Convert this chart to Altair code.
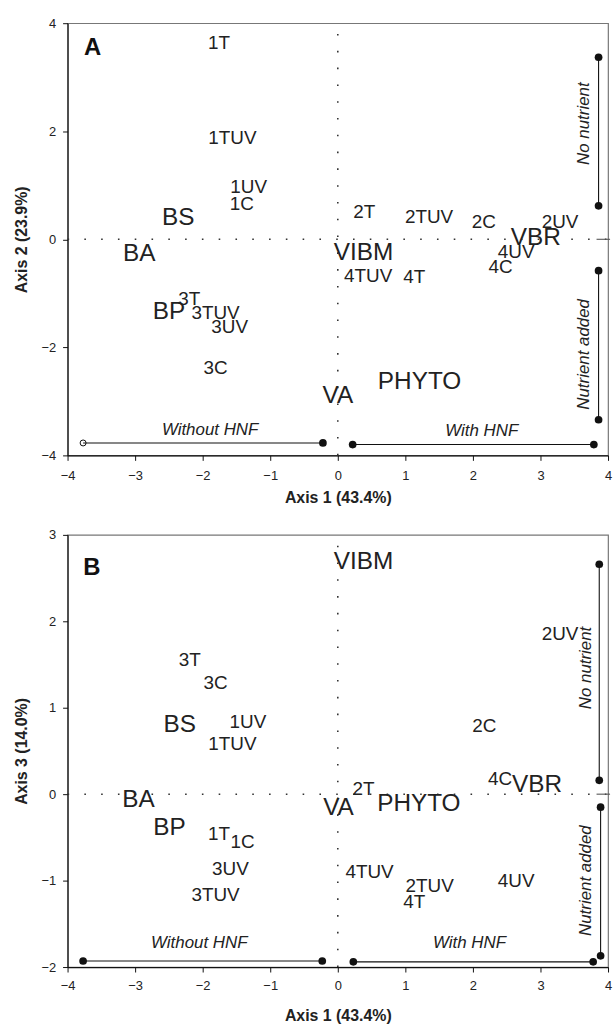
import altair as alt
import pandas as pd

FONT = "Liberation Sans"

# ---------------- Panel A (Axis 1 vs Axis 2) ----------------
a_labels = ["1T", "1TUV", "1UV", "1C", "BS", "BA", "BP", "3T", "3TUV", "3UV", "3C",
            "2T", "2TUV", "2C", "2UV", "VBR", "4UV", "4C", "VIBM", "4TUV", "4T", "PHYTO", "VA"]
a_x = [-1.76, -1.56, -1.32, -1.42, -2.36, -2.94, -2.50, -2.20, -1.81, -1.60, -1.81,
       0.39, 1.35, 2.16, 3.29, 2.93, 2.64, 2.41, 0.38, 0.45, 1.13, 1.21, 0.00]
a_y = [3.64, 1.88, 0.97, 0.65, 0.40, -0.28, -1.34, -1.11, -1.36, -1.62, -2.39,
       0.51, 0.42, 0.32, 0.32, 0.03, -0.23, -0.52, -0.25, -0.68, -0.70, -2.64, -2.91]

# ---------------- Panel B (Axis 1 vs Axis 3) ----------------
b_labels = ["VIBM", "2UV", "2C", "3T", "3C", "BS", "1UV", "1TUV", "BA", "BP", "1T", "1C",
            "3UV", "3TUV", "2T", "VA", "PHYTO", "4C", "VBR", "4TUV", "2TUV", "4T", "4UV"]
b_x = [0.38, 3.29, 2.17, -2.19, -1.81, -2.34, -1.33, -1.56, -2.95, -2.49, -1.76, -1.41,
       -1.59, -1.81, 0.38, 0.01, 1.20, 2.40, 2.95, 0.47, 1.36, 1.13, 2.64]
b_y = [2.69, 1.85, 0.79, 1.55, 1.28, 0.80, 0.84, 0.58, -0.07, -0.39, -0.46, -0.55,
       -0.87, -1.17, 0.06, -0.16, -0.12, 0.17, 0.10, -0.90, -1.06, -1.25, -1.00]

# variables (drawn larger) vs samples
variables = ["BS", "BA", "BP", "VIBM", "VBR", "PHYTO", "VA"]

# group bars: start x, end x, start y, end y
a_seg_x = [-3.77, 0.22, 3.86, 3.86]
a_seg_x2 = [-0.22, 3.79, 3.86, 3.86]
a_seg_y = [-3.77, -3.80, 3.37, -0.58]
a_seg_y2 = [-3.77, -3.80, 0.62, -3.34]
a_open_end = [True, False, False, False]

b_seg_x = [-3.77, 0.23, 3.87, 3.89]
b_seg_x2 = [-0.23, 3.78, 3.87, 3.89]
b_seg_y = [-1.93, -1.94, 2.66, -0.15]
b_seg_y2 = [-1.93, -1.94, 0.16, -1.87]

# short divider mark at y = 0 on the right edge
divider_x = [3.83, 4.03]

group_names = ["Without HNF", "With HNF", "No nutrient", "Nutrient added"]
group_angle = [0, 0, 270, 270]
a_group_x = [-1.89, 2.13, 3.65, 3.65]
a_group_y = [-3.54, -3.55, 2.14, -2.13]
b_group_x = [-2.05, 1.95, 3.67, 3.67]
b_group_y = [-1.72, -1.72, 1.46, -1.00]

panel_letters = ["A", "B"]
letter_x = [-3.63, -3.64]
letter_y = [3.54, 2.62]

W, H = 544, 435


def panel(labels, xs, ys, seg_x, seg_x2, seg_y, seg_y2, open_first, gx, gy,
          letter, lx, ly, ydom, yticks, ytitle, lab_pad, title_pad):
    xsc = alt.Scale(domain=[-4, 4], nice=False, zero=False)
    ysc = alt.Scale(domain=ydom, nice=False, zero=False)
    xax = alt.Axis(values=list(range(-4, 5)), format="d", title="Axis 1 (43.4%)",
                   labelPadding=lab_pad, titlePadding=title_pad)
    yax = alt.Axis(values=yticks, format="d", title=ytitle)

    pts = pd.DataFrame({"label": labels, "x": xs, "y": ys})
    pts["big"] = pts["label"].isin(variables)

    zero = pd.DataFrame({"x": [0, -4], "x2": [0, 4], "y": [ydom[0], 0], "y2": [ydom[1], 0]})
    zero_l = alt.Chart(zero).mark_rule(color="#333", strokeDash=[1.6, 15.3], strokeWidth=1.6).encode(
        x=alt.X("x:Q", scale=xsc, axis=xax), x2="x2:Q",
        y=alt.Y("y:Q", scale=ysc, axis=yax), y2="y2:Q")

    div = pd.DataFrame({"x": [divider_x[0]], "x2": [divider_x[1]], "y": [0]})
    div_l = alt.Chart(div).mark_rule(color="#555", strokeWidth=1.1).encode(
        x=alt.X("x:Q", scale=xsc), x2="x2:Q", y=alt.Y("y:Q", scale=ysc))

    seg = pd.DataFrame({"x": seg_x, "x2": seg_x2, "y": seg_y, "y2": seg_y2})
    seg_l = alt.Chart(seg).mark_rule(color="#111", strokeWidth=1.1).encode(
        x=alt.X("x:Q", scale=xsc), x2="x2:Q", y=alt.Y("y:Q", scale=ysc), y2="y2:Q")

    ends = []
    for i in range(len(seg_x)):
        ends.append({"x": seg_x[i], "y": seg_y[i], "open": bool(open_first[i])})
        ends.append({"x": seg_x2[i], "y": seg_y2[i], "open": False})
    ends = pd.DataFrame(ends)
    dots = alt.Chart(ends).transform_filter("!datum.open").mark_point(
        filled=True, color="#111", size=60, opacity=1).encode(
        x=alt.X("x:Q", scale=xsc), y=alt.Y("y:Q", scale=ysc))
    odots = alt.Chart(ends).transform_filter("datum.open").mark_point(
        filled=False, color="#111", size=36, strokeWidth=1, opacity=1).encode(
        x=alt.X("x:Q", scale=xsc), y=alt.Y("y:Q", scale=ysc))

    small = alt.Chart(pts).transform_filter("!datum.big").mark_text(
        font=FONT, fontSize=19, color="#222", align="center", baseline="middle").encode(
        x=alt.X("x:Q", scale=xsc), y=alt.Y("y:Q", scale=ysc), text="label:N")
    large = alt.Chart(pts).transform_filter("datum.big").mark_text(
        font=FONT, fontSize=24.5, color="#222", align="center", baseline="middle").encode(
        x=alt.X("x:Q", scale=xsc), y=alt.Y("y:Q", scale=ysc), text="label:N")

    grp = pd.DataFrame({"name": group_names, "x": gx, "y": gy, "angle": group_angle})
    horiz = alt.Chart(grp).transform_filter("datum.angle == 0").mark_text(
        font=FONT, fontSize=17, fontStyle="italic", color="#222", align="center", baseline="middle").encode(
        x=alt.X("x:Q", scale=xsc), y=alt.Y("y:Q", scale=ysc), text="name:N")
    vert = alt.Chart(grp).transform_filter("datum.angle != 0").mark_text(
        font=FONT, fontSize=17, fontStyle="italic", color="#222", align="center", baseline="middle",
        angle=270).encode(
        x=alt.X("x:Q", scale=xsc), y=alt.Y("y:Q", scale=ysc), text="name:N")

    let = pd.DataFrame({"t": [letter], "x": [lx], "y": [ly]})
    let_l = alt.Chart(let).mark_text(font=FONT, fontSize=24, fontWeight="bold", color="#111",
                                     align="center", baseline="middle").encode(
        x=alt.X("x:Q", scale=xsc), y=alt.Y("y:Q", scale=ysc), text="t:N")

    return alt.layer(zero_l, div_l, seg_l, dots, odots, small, large, horiz, vert, let_l).properties(
        width=W, height=H)


top = panel(a_labels, a_x, a_y, a_seg_x, a_seg_x2, a_seg_y, a_seg_y2, a_open_end,
            a_group_x, a_group_y, panel_letters[0], letter_x[0], letter_y[0],
            [-4, 4], [-4, -2, 0, 2, 4], "Axis 2 (23.9%)", 9, 7.5)
bottom = panel(b_labels, b_x, b_y, b_seg_x, b_seg_x2, b_seg_y, b_seg_y2, [False] * 4,
               b_group_x, b_group_y, panel_letters[1], letter_x[1], letter_y[1],
               [-2, 3], [-2, -1, 0, 1, 2, 3], "Axis 3 (14.0%)", 7.5, 15.5)

chart = alt.vconcat(top, bottom, spacing=21).properties(
    padding={"left": 12, "top": 13, "right": 0, "bottom": 0},
    background="white"
).configure_view(
    stroke="#777", strokeWidth=1.2
).configure_axis(
    grid=False, domainColor="#111", domainWidth=1.2, tickColor="#111", tickSize=5,
    labelFont=FONT, labelFontSize=13, labelColor="#222",
    titleFont=FONT, titleFontSize=16, titleFontWeight="bold", titleColor="#222",
    labelFlush=False
).configure_axisY(labelPadding=7, titlePadding=12)

chart.save("out.html", embed_options={"renderer": "svg", "actions": False})
